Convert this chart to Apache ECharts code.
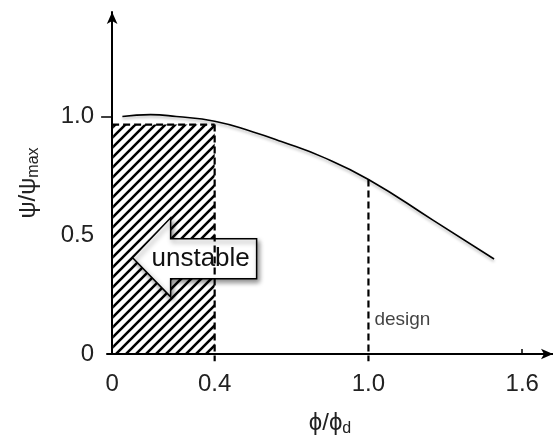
<!DOCTYPE html>
<html>
<head>
<meta charset="utf-8">
<script src="https://cdn.jsdelivr.net/npm/echarts@6/dist/echarts.min.js"></script>
<style>
  html, body { margin: 0; padding: 0; background: #fff; }
  #main { width: 553px; height: 436px; }
</style>
</head>
<body>
<div id="main"></div>
<script>
// curve psi/psi_max against phi/phi_d
var curvePhi = [0.04, 0.15, 0.25, 0.4, 0.55, 0.66, 0.82, 1.0, 1.25, 1.49];
var curvePsi = [1.0, 1.008, 1.0, 0.98, 0.935, 0.895, 0.83, 0.735, 0.565, 0.40];

var xTicks = [0, 0.4, 1.0, 1.6];
var xTickLabels = ['0', '0.4', '1.0', '1.6'];
var yTicks = [0, 0.5, 1.0];
var yTickLabels = ['0', '0.5', '1.0'];

// unstable zone: from phi 0 to 0.4, up to psi 0.966
var unstableX = [0, 0.4];
var unstableTop = 0.966;
// design point
var designPhi = 1.0;
var designPsi = 0.735;
// arrow tip position (data coords)
var arrowTip = [0.08, 0.405];
var designLabelPos = [1.0, 0.143];

var font = '"Liberation Sans", Arial, sans-serif';

// hatch pattern
var tile = document.createElement('canvas');
tile.width = 10; tile.height = 10;
var c = tile.getContext('2d');
c.strokeStyle = '#000';
c.lineWidth = 2.6;
c.beginPath();
c.moveTo(-1, 11); c.lineTo(11, -1);
c.moveTo(-1, 1); c.lineTo(1, -1);
c.moveTo(9, 11); c.lineTo(11, 9);
c.stroke();

var myChart = echarts.init(document.getElementById('main'));

var dash = { color: '#000', width: 2.2, type: [7, 4] };

var option = {
  animation: false,
  grid: { left: 107, right: 0, top: 12, bottom: 82, outerBoundsMode: 'none', containLabel: false },
  xAxis: {
    type: 'value',
    min: -0.02,
    max: 1.72,
    splitLine: { show: false },
    axisLine: { onZero: false, lineStyle: { color: '#000', width: 2 }, symbol: ['none', 'arrow'], symbolSize: [8, 12] },
    axisTick: { show: true, inside: true, length: 5, customValues: [1.6], lineStyle: { color: '#000', width: 1.5 } },
    axisLabel: {
      customValues: xTicks,
      formatter: function (v) { return xTickLabels[xTicks.indexOf(v)]; },
      fontSize: 24, color: '#222', fontFamily: font, margin: 18
    },
    name: '{a|ϕ/ϕ}{b|d}',
    nameLocation: 'middle',
    nameGap: 55,
    nameTextStyle: {
      rich: {
        a: { fontSize: 24, color: '#222', fontFamily: font },
        b: { fontSize: 16, color: '#222', fontFamily: font, padding: [12, 0, 0, 0] }
      }
    }
  },
  yAxis: {
    type: 'value',
    min: 0,
    max: 1.44,
    splitLine: { show: false },
    axisLine: { onZero: true, lineStyle: { color: '#000', width: 2 }, symbol: ['none', 'arrow'], symbolSize: [8, 12] },
    axisTick: { show: true, length: 11, customValues: [1.0], lineStyle: { color: '#000', width: 1.5 } },
    axisLabel: {
      customValues: yTicks,
      formatter: function (v) { return yTickLabels[yTicks.indexOf(v)]; },
      fontSize: 24, color: '#222', fontFamily: font, margin: 13
    },
    name: '{a|ψ/ψ}{b|max}',
    nameLocation: 'middle',
    nameRotate: 90,
    nameGap: 65,
    nameTextStyle: {
      rich: {
        a: { fontSize: 24, color: '#222', fontFamily: font },
        b: { fontSize: 16, color: '#222', fontFamily: font, padding: [12, 0, 0, 0] }
      }
    }
  },
  series: [
    {
      // hatched unstable region
      type: 'custom',
      silent: true,
      data: [[unstableX[0], unstableX[1], unstableTop]],
      renderItem: function (params, api) {
        var p0 = api.coord([api.value(0), 0]);
        var p1 = api.coord([api.value(1), api.value(2)]);
        return {
          type: 'rect',
          shape: { x: p0[0] + 1, y: p1[1], width: p1[0] - p0[0] - 1, height: p0[1] - p1[1] },
          style: { fill: { image: tile, repeat: 'repeat' }, stroke: null }
        };
      }
    },
    {
      // top edge of the region
      type: 'line',
      data: [[unstableX[0], unstableTop], [unstableX[1], unstableTop]],
      symbol: 'none',
      lineStyle: dash
    },
    {
      // right edge of the region
      type: 'line',
      clip: false,
      data: [[unstableX[1], unstableTop], [unstableX[1], -0.03]],
      symbol: 'none',
      lineStyle: dash
    },
    {
      // design line
      type: 'line',
      clip: false,
      data: [[designPhi, designPsi], [designPhi, -0.03]],
      symbol: 'none',
      lineStyle: dash
    },
    {
      type: 'line',
      smooth: 0.5,
      symbol: 'none',
      data: curvePhi.map(function (x, i) { return [x, curvePsi[i]]; }),
      lineStyle: { color: '#000', width: 1.6, shadowColor: 'rgba(0,0,0,0.3)', shadowBlur: 3, shadowOffsetY: 2 }
    },
    {
      type: 'scatter',
      symbolSize: 0,
      data: [designLabelPos],
      label: { show: true, position: 'right', distance: 6, formatter: 'design', fontSize: 19, color: '#111', fontFamily: font }
    },
    {
      // "unstable" arrow
      type: 'custom',
      silent: true,
      data: [arrowTip],
      renderItem: function (params, api) {
        var t = api.coord([api.value(0), api.value(1)]);
        var pts = [[0, 0], [38, -40], [38, -19], [124, -19], [124, 21], [38, 21], [38, 39]];
        return {
          type: 'group',
          children: [
            {
              type: 'polygon',
              shape: { points: pts.map(function (p) { return [t[0] + p[0], t[1] + p[1]]; }) },
              style: { fill: '#fff', stroke: '#000', lineWidth: 1.5, shadowColor: 'rgba(0,0,0,0.45)', shadowBlur: 5, shadowOffsetX: 2, shadowOffsetY: 3 }
            },
            {
              type: 'text',
              style: { x: t[0] + 68, y: t[1] + 1, text: 'unstable', fontSize: 26, fontFamily: font, fill: '#111', align: 'center', verticalAlign: 'middle' }
            }
          ]
        };
      }
    }
  ]
};

myChart.setOption(option);
</script>
</body>
</html>
